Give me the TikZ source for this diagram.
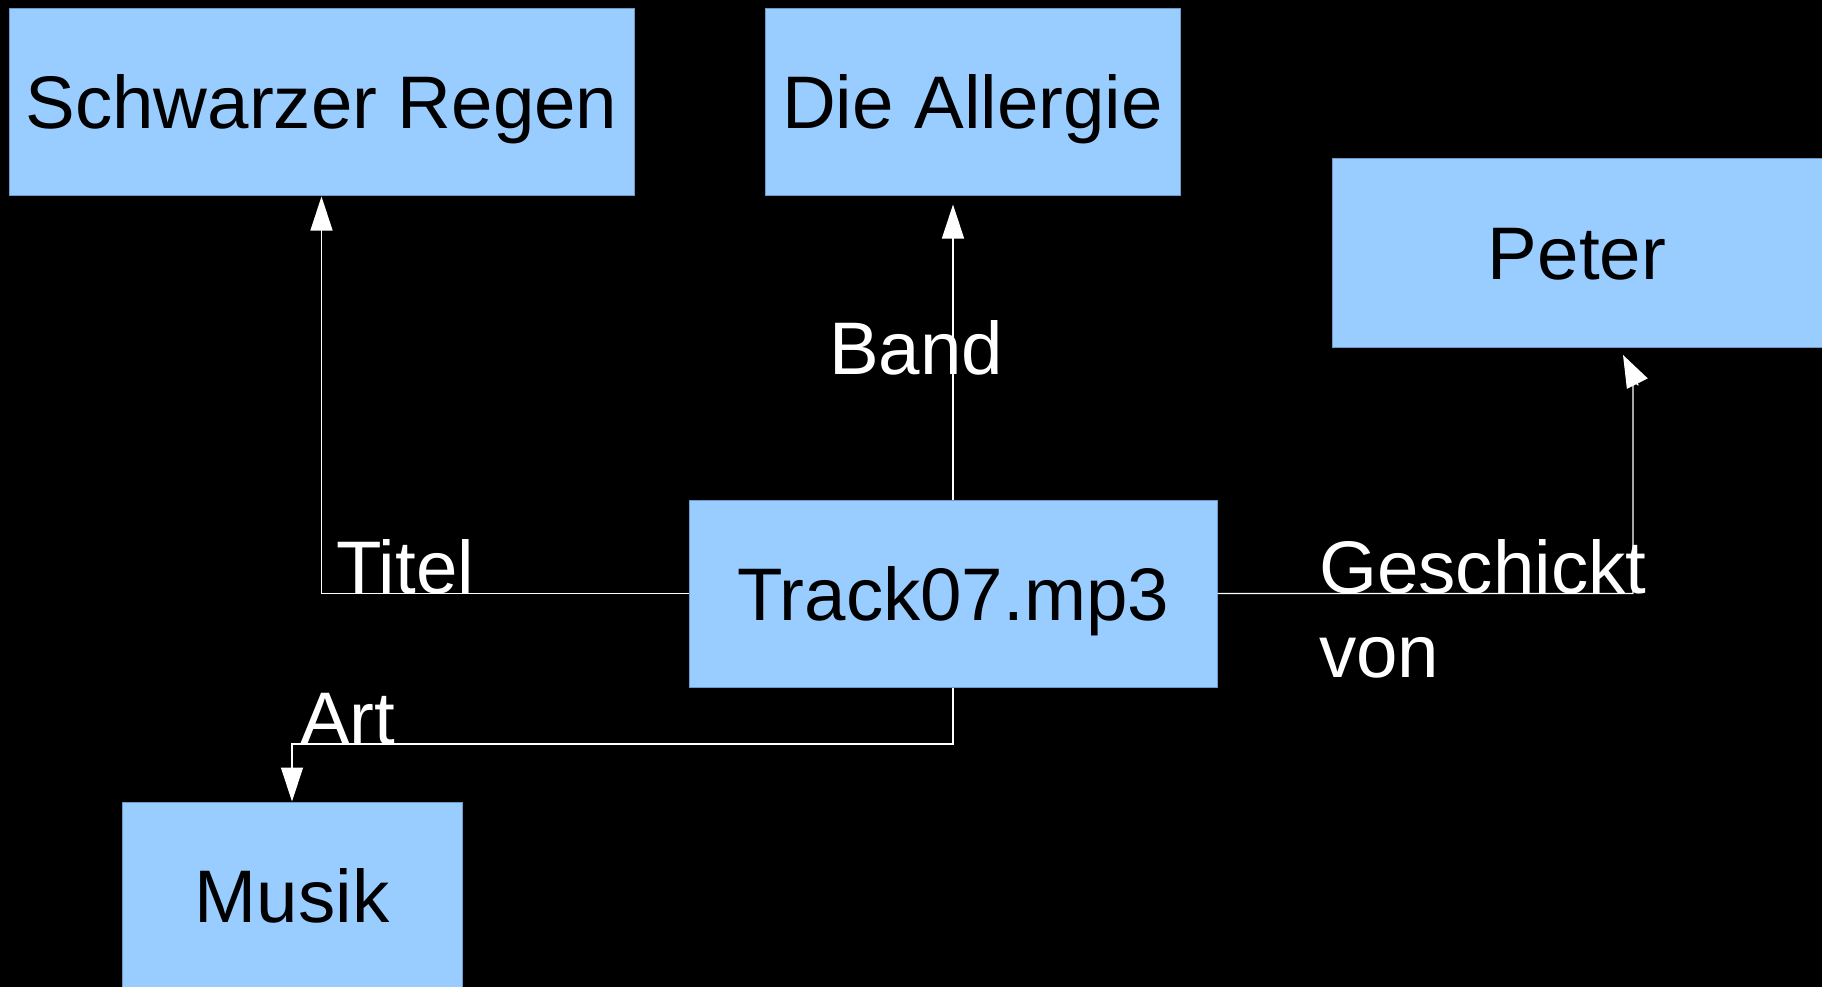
\documentclass[tikz,border=0pt]{standalone}
\usepackage{fontspec}
\setmainfont{Liberation Sans}
\usetikzlibrary{arrows.meta}
\definecolor{boxblue}{HTML}{99CCFF}
\definecolor{boxedge}{HTML}{6E9AC8}
\begin{document}
\begin{tikzpicture}[x=1pt,y=-1pt,
  box/.style={fill=boxblue,draw=boxedge,line width=1pt,inner sep=0pt,
    minimum height=187pt,text height=53pt,text depth=0pt,
    font=\fontsize{74.5}{90}\selectfont,text=black},
  conn/.style={draw=white,line width=1.3pt,-{Triangle[length=34pt,width=22pt]}},
  lbl/.style={text=white,anchor=base west,inner sep=0pt,font=\fontsize{74.5}{90}\selectfont}]
\fill[black] (0,0) rectangle (1822,987);
\useasboundingbox (0,0) rectangle (1822,987);

\node[box,minimum width=625pt] (schwarz) at (321.5,102.5) {Schwarzer Regen};
\node[box,minimum width=415pt] (allergie) at (972.5,102.5) {Die Allergie};
\node[box,minimum width=490pt,minimum height=188pt] (peter) at (1577,253) {Peter};
\node[box,minimum width=528pt] (track) at (953,593.5) {Track07.mp3};
\node[box,minimum width=340pt] (musik) at (292,895.5) {Musik};

\coordinate (artbend) at (292,744);
\coordinate (g1) at (1633,593.5);
\coordinate (g2) at (1633,380);
\coordinate (g3) at (1638,385);
\coordinate (gtip) at (1623,355);

\draw[conn] (track.west) -| (schwarz.south);
\draw[conn,shorten >=8pt] (track.north) -- (track.north |- allergie.south);
\draw[conn] (track.south) |- (artbend) -- (musik.north);
\draw[conn,line join=round,-{Triangle[length=32pt,width=23pt]}] (track.east) -- (g1) -- (g2) -- (g3) -- (gtip);

\node[lbl] (titel) at (336,593) {Titel};
\node[lbl] (band) at (829,374) {Band};
\node[lbl] (gesch) at (1319,593) {Geschickt};
\node[lbl] (von) at (1319,677) {von};
\node[lbl] (art) at (300,744) {Art};
\end{tikzpicture}
\end{document}
